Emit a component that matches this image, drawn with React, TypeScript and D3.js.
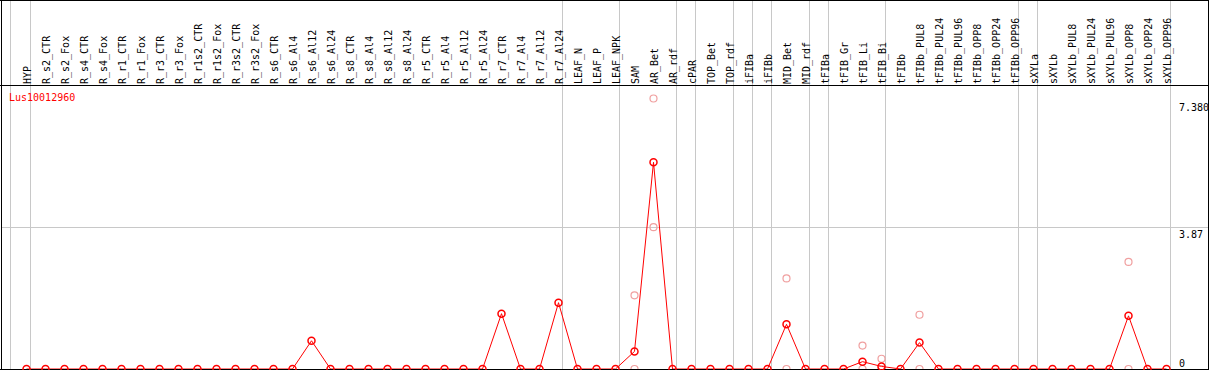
import React from "react";
import * as d3 from "d3";

const geneName = "Lus10012960";

const categories = [
  "HYP", "R_s2_CTR", "R_s2_Fox", "R_s4_CTR", "R_s4_Fox", "R_r1_CTR", "R_r1_Fox", "R_r3_CTR", "R_r3_Fox",
  "R_r1s2_CTR", "R_r1s2_Fox", "R_r3s2_CTR", "R_r3s2_Fox", "R_s6_CTR", "R_s6_Al4", "R_s6_Al12", "R_s6_Al24",
  "R_s8_CTR", "R_s8_Al4", "R_s8_Al12", "R_s8_Al24", "R_r5_CTR", "R_r5_Al4", "R_r5_Al12", "R_r5_Al24",
  "R_r7_CTR", "R_r7_Al4", "R_r7_Al12", "R_r7_Al24", "LEAF_N", "LEAF_P", "LEAF_NPK", "SAM", "AR_Bet", "AR_rdf",
  "cPAR", "TOP_Bet", "TOP_rdf", "iFIBa", "iFIBb", "MID_Bet", "MID_rdf", "tFIBa", "tFIB_Gr", "tFIB_Li", "tFIB_Bi",
  "tFIBb", "tFIBb_PUL8", "tFIBb_PUL24", "tFIBb_PUL96", "tFIBb_OPP8", "tFIBb_OPP24", "tFIBb_OPP96",
  "sXYLa", "sXYLb", "sXYLb_PUL8", "sXYLb_PUL24", "sXYLb_PUL96", "sXYLb_OPP8", "sXYLb_OPP24", "sXYLb_OPP96",
];

// mean expression (red line)
const meanValues = [
  0, 0, 0, 0, 0, 0, 0, 0, 0,
  0, 0, 0, 0, 0, 0, 0.77, 0,
  0, 0, 0, 0, 0, 0, 0, 0,
  1.51, 0, 0, 1.81, 0, 0, 0, 0.48, 5.64, 0,
  0, 0, 0, 0, 0, 1.22, 0, 0, 0, 0.2, 0.07,
  0, 0.72, 0, 0, 0, 0, 0,
  0, 0, 0, 0, 0, 1.45, 0, 0,
];

// replicate values (pink circles)
const repHigh = [
  null, null, null, null, null, null, null, null, null,
  null, null, null, null, null, null, null, null,
  null, null, null, null, null, null, null, null,
  null, null, null, null, null, null, null, 2.01, 7.38, null,
  null, null, null, null, null, 2.47, null, null, null, 0.64, 0.28,
  null, 1.48, null, null, null, null, null,
  null, null, null, null, null, 2.92, null, null,
];
const repLow = [
  null, null, null, null, null, null, null, null, null,
  null, null, null, null, null, null, null, null,
  null, null, null, null, null, null, null, null,
  null, null, null, null, null, null, null, 0, 3.87, null,
  null, null, null, null, null, 0, null, null, null, 0, 0,
  null, 0, null, null, null, null, null,
  null, null, null, null, null, 0, null, null,
];

// group separators (after these categories)
const separatorsAfter = [
  "HYP", "R_r7_Al24", "LEAF_NPK", "AR_rdf", "cPAR", "TOP_rdf", "iFIBa", "iFIBb",
  "MID_rdf", "tFIBa", "tFIB_Bi", "tFIBb_OPP96", "sXYLa", "sXYLb_OPP96",
];

const yMax = 7.38;
const yMid = 3.87;
const tickLabels = ["7.380", "3.87", "0"];

const W = 1209;
const H = 370;
const FONT = "'DejaVu Sans Mono', monospace";

export default function App() {
  const x = d3.scalePoint<string>().domain(categories).range([26.5, 1166.5]);
  const y = d3.scaleLinear().domain([0, yMax]).range([369, 98.5]);
  const gx = (c: string) => (x(c) as number);

  const lineGen = d3
    .line<number>()
    .x((_, i) => gx(categories[i]))
    .y((d) => y(d));

  const midY = Math.round(y(yMid)) + 0.5;
  const pink = "#f0a0a0";
  const red = "#ff0000";
  const grid = "#c8c8c8";

  return (
    <svg
      width={W}
      height={H}
      style={{ position: "absolute", left: 0, top: 0, background: "#fff" }}
      fontFamily={FONT}
    >
      <rect x={0} y={0} width={W} height={H} fill="#fff" />
      {/* vertical separators */}
      <line x1={10.5} x2={10.5} y1={0} y2={H} stroke={grid} />
      {separatorsAfter.map((c) => {
        const xx = gx(c) + 4;
        return <line key={c} x1={xx} x2={xx} y1={0} y2={H} stroke={grid} />;
      })}
      {/* horizontal grid */}
      <line x1={1} x2={1208} y1={midY} y2={midY} stroke={grid} />

      {/* header labels */}
      {categories.map((c) => (
        <text
          key={c}
          transform={`translate(${gx(c) + 4},84) rotate(-90)`}
          fontSize={10}
          fill="#000"
        >
          {c}
        </text>
      ))}

      {/* frame */}
      <line x1={0} x2={W} y1={0.5} y2={0.5} stroke="#000" />
      <line x1={1.5} x2={1.5} y1={0} y2={H} stroke="#000" />
      <line x1={1208.5} x2={1208.5} y1={0} y2={H} stroke="#000" />
      <line x1={0} x2={W} y1={85.5} y2={85.5} stroke="#000" />

      <text x={9} y={101} fontSize={10} fill={red}>
        {geneName}
      </text>

      {/* axis labels */}
      <text x={1179} y={y(yMax) + 12.5} fontSize={10} fill="#000">
        {tickLabels[0]}
      </text>
      <text x={1179} y={midY + 10.5} fontSize={10} fill="#000">
        {tickLabels[1]}
      </text>
      <text x={1179} y={y(0) - 2.5} fontSize={10} fill="#000">
        {tickLabels[2]}
      </text>

      {/* replicate points */}
      {[repHigh, repLow].map((arr, k) =>
        arr.map((v, i) =>
          v === null ? null : (
            <circle
              key={`r${k}-${i}`}
              cx={gx(categories[i])}
              cy={y(v)}
              r={3.5}
              fill="none"
              stroke={pink}
              strokeWidth={1.2}
            />
          )
        )
      )}

      {/* mean line */}
      <path d={lineGen(meanValues) || ""} fill="none" stroke={red} strokeWidth={1} />
      <line x1={0} x2={W} y1={369.5} y2={369.5} stroke="#000" />
      {meanValues.map((v, i) => (
        <circle
          key={`m${i}`}
          cx={gx(categories[i])}
          cy={y(v)}
          r={3.5}
          fill="none"
          stroke={red}
          strokeWidth={1.5}
        />
      ))}
    </svg>
  );
}
